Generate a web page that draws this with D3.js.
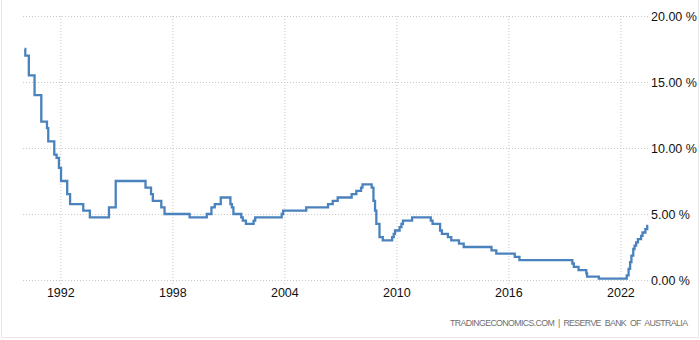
<!DOCTYPE html>
<html>
<head>
<meta charset="utf-8">
<script src="https://cdn.jsdelivr.net/npm/d3@7"></script>
<style>
  html, body { margin: 0; padding: 0; background: #fff; }
  svg { display: block; }
  .tick-label { font-family: "Liberation Sans Narrow", "Arial Narrow", "Liberation Sans", Arial, sans-serif; font-size: 12.5px; fill: #111; }
</style>
</head>
<body>
<svg id="chart" width="700" height="340"></svg>
<script>
// Australian cash rate target: date each new level took effect, and the level (%)
const changeDates = [
  "1990-02-01","1990-02-15","1990-04-25","1990-08-15","1990-12-25","1991-04-15","1991-05-10",
  "1991-09-05","1991-10-20","1991-12-05","1992-01-15","1992-05-15","1992-07-10","1993-03-25",
  "1993-08-01","1994-08-10","1994-12-20","1996-07-25","1996-11-10","1996-12-15","1997-05-30",
  "1997-08-01","1998-12-05","1999-11-05","2000-02-05","2000-04-10","2000-08-05","2001-02-10",
  "2001-03-10","2001-04-10","2001-09-10","2001-10-10","2001-12-10","2002-05-10","2002-06-10",
  "2003-11-10","2003-12-10","2005-03-05","2006-05-05","2006-08-05","2006-11-10","2007-08-10",
  "2007-11-10","2008-02-10","2008-03-10","2008-09-05","2008-10-10","2008-11-10","2008-12-05",
  "2009-02-05","2009-04-10","2009-10-10","2009-11-10","2009-12-05","2010-03-05","2010-04-10",
  "2010-05-10","2010-11-05","2011-11-05","2011-12-10","2012-05-05","2012-06-10","2012-10-05",
  "2012-12-10","2013-05-10","2013-08-10","2015-02-05","2015-05-10","2016-05-05","2016-08-05",
  "2019-06-05","2019-07-05","2019-10-05","2020-03-05","2020-03-20","2020-11-05","2022-05-05",
  "2022-06-10","2022-07-10","2022-08-05","2022-09-10","2022-10-05","2022-11-05","2022-12-10",
  "2023-02-10","2023-03-10","2023-05-05","2023-06-10","2023-07-01"
];
const rates = [
  17.5, 17.0, 15.5, 14.0, 12.0, 11.5, 10.5,
  9.5, 9.25, 8.5, 7.5, 6.5, 5.75, 5.25,
  4.75, 5.5, 7.5, 7.0, 6.5, 6.0, 5.5,
  5.0, 4.75, 5.0, 5.5, 5.75, 6.25, 5.75,
  5.5, 5.0, 4.75, 4.5, 4.25, 4.5, 4.75,
  5.0, 5.25, 5.5, 5.75, 6.0, 6.25, 6.5,
  6.75, 7.0, 7.25, 7.0, 6.0, 5.25, 4.25,
  3.25, 3.0, 3.25, 3.5, 3.75, 4.0, 4.25,
  4.5, 4.75, 4.5, 4.25, 3.75, 3.5, 3.25,
  3.0, 2.75, 2.5, 2.25, 2.0, 1.75, 1.5,
  1.25, 1.0, 0.75, 0.5, 0.25, 0.1, 0.35,
  0.85, 1.35, 1.85, 2.35, 2.6, 2.85, 3.1,
  3.35, 3.6, 3.85, 4.1, 4.1
];
const yTickValues = [0, 5, 10, 15, 20];
const xTickYears = [1992, 1998, 2004, 2010, 2016, 2022];
const sourceText = "TRADINGECONOMICS.COM | RESERVE BANK OF AUSTRALIA";

const parse = d3.timeParse("%Y-%m-%d");
const series = changeDates.map((d, i) => ({ date: parse(d), value: rates[i] }));

const svg = d3.select("#chart");

// frame: left, bottom and right edges
svg.append("path")
  .attr("d", `M1.5,0 V337.5 H698.5 V0`)
  .attr("fill", "none")
  .attr("stroke", "#e8e8e8");

const x = d3.scaleTime()
  .domain([new Date(1990, 0, 1), new Date(2023, 6, 1)])
  .range([23, 648.3]);
const y = d3.scaleLinear().domain([0, 20]).range([280, 16]);

const grid = { stroke: "#c9c9c9", dash: "1,2" };

// vertical grid + year labels
const xAxis = d3.axisBottom(x)
  .tickValues(xTickYears.map(yr => new Date(yr, 0, 1)))
  .tickFormat(d3.timeFormat("%Y"))
  .tickSize(0)
  .tickPadding(0);
const gx = svg.append("g").attr("transform", "translate(0,280)").call(xAxis);
gx.select(".domain").remove();
gx.selectAll(".tick line")
  .attr("y1", -264).attr("y2", 4)
  .attr("stroke", grid.stroke).attr("stroke-dasharray", grid.dash);
gx.selectAll(".tick text")
  .attr("class", "tick-label")
  .attr("y", 17).attr("dy", null)
  .attr("font-family", null).attr("font-size", null);

// horizontal grid + percentage labels on the right
const yAxis = d3.axisRight(y)
  .tickValues(yTickValues)
  .tickFormat(d => d3.format(".2f")(d) + " %")
  .tickSize(0)
  .tickPadding(0);
const gy = svg.append("g").attr("transform", "translate(651,0)").call(yAxis);
gy.select(".domain").remove();
gy.selectAll(".tick line")
  .attr("x1", 23 - 651).attr("x2", -3)
  .attr("stroke", grid.stroke).attr("stroke-dasharray", grid.dash);
gy.selectAll(".tick text")
  .attr("class", "tick-label")
  .attr("x", 0).attr("dy", "0.36em")
  .attr("font-family", null).attr("font-size", null);

// rate line
const line = d3.line()
  .x(d => x(d.date))
  .y(d => y(d.value))
  .curve(d3.curveStepAfter);
svg.append("path")
  .datum(series)
  .attr("d", line)
  .attr("fill", "none")
  .attr("stroke", "#4a82bd")
  .attr("stroke-width", 2.3)
  .attr("stroke-linejoin", "miter");

// source note
svg.append("text")
  .attr("x", 450).attr("y", 325.5)
  .attr("textLength", 238)
  .attr("lengthAdjust", "spacing")
  .attr("font-family", "'Liberation Sans Narrow', 'Arial Narrow', 'Liberation Sans', Arial, sans-serif")
  .attr("font-size", 8.8)
  .attr("word-spacing", 2)
  .attr("fill", "#6f6f6f")
  .text(sourceText);
</script>
</body>
</html>
